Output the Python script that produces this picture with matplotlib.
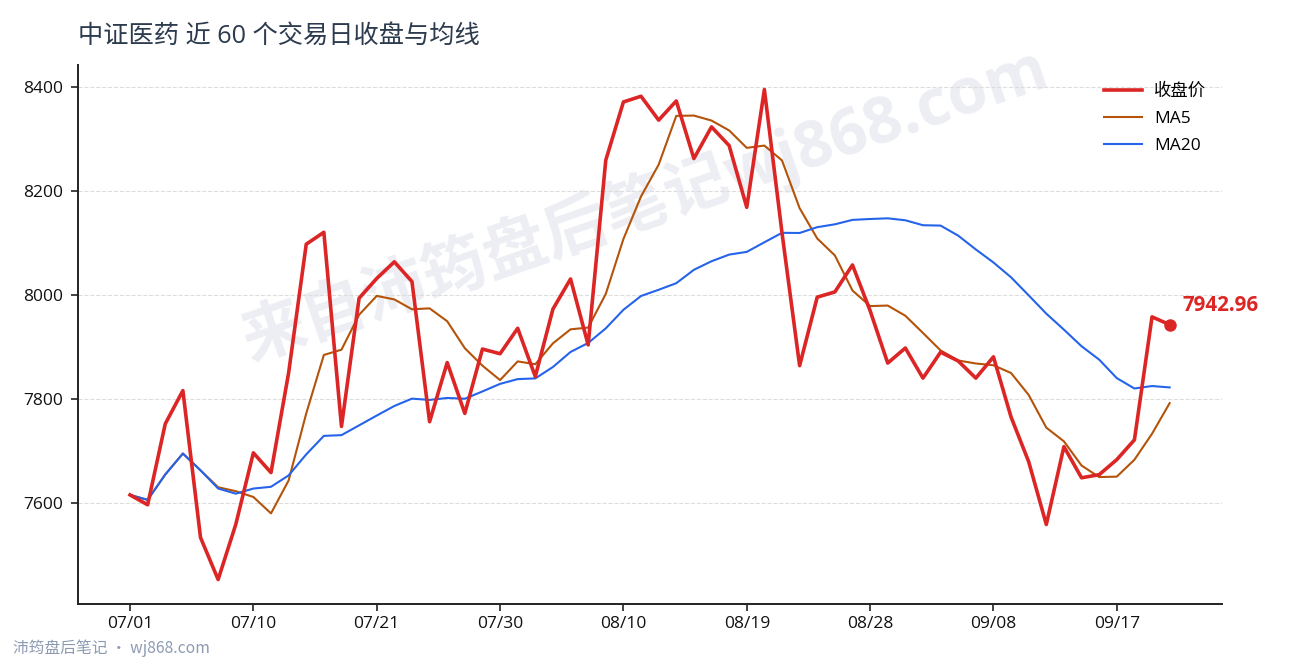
import matplotlib
matplotlib.use("Agg")
import matplotlib.pyplot as plt
import pandas as pd
import numpy as np

FAM = ['Open Sans', 'Noto Sans CJK SC', 'DejaVu Sans']
CJK = ['Noto Sans CJK SC', 'DejaVu Sans']
plt.rcParams['font.family'] = FAM

# ---- data ----
close = [7615, 7596, 7752, 7816, 7533, 7452, 7558, 7696, 7658, 7850,
         8098, 8121, 7747, 7994, 8032, 8064, 8026, 7756, 7870, 7772,
         7896, 7887, 7936, 7843, 7973, 8031, 7904, 8260, 8372, 8383,
         8337, 8374, 8263, 8324, 8288, 8169, 8396, 8120, 7864, 7996,
         8006, 8058, 7970, 7869, 7898, 7840, 7890, 7873, 7840, 7881,
         7765, 7679, 7558, 7708, 7648, 7654, 7683, 7721, 7958, 7942.96]
tick_labels = ["07/01", "07/10", "07/21", "07/30", "08/10",
               "08/19", "08/28", "09/08", "09/17"]
tick_step = 7
last_label = "7942.96"

s = pd.Series(close)
ma5 = s.rolling(5, min_periods=1).mean()
ma20 = s.rolling(20, min_periods=1).mean()
x = np.arange(len(close))

fig = plt.figure(figsize=(12.9, 6.6), dpi=100)
ax = fig.add_axes([0.0605, 0.0848, 0.8865, 0.8167])
ax.set_zorder(2)
ax.patch.set_alpha(0)

# watermark (behind the axes content)
fig.text(0.50, 0.69, "来自沛筠盘后笔记wj868.com", fontsize=46, fontweight='bold',
         color='#eceef3', rotation=19, ha='center', va='center', zorder=1,
         family=FAM)

ax.plot(x, close, color='#dc2626', lw=2.6, label='收盘价', zorder=4)
ax.plot(x, ma5, color='#b45309', lw=1.5, label='MA5', zorder=3)
ax.plot(x, ma20, color='#2563eb', lw=1.5, label='MA20', zorder=3)

ax.plot(x[-1], close[-1], 'o', color='#dc2626', ms=8, zorder=5)
ax.annotate(last_label, (x[-1], close[-1]), xytext=(9, 14), textcoords='offset points',
            color='#dc2626', fontsize=14.8, fontweight='bold', ha='left', va='center')

ax.set_xticks(x[::tick_step])
ax.set_xticklabels(tick_labels)
ax.set_yticks([7600, 7800, 8000, 8200, 8400])
ax.margins(x=0.05, y=0.05)

ax.grid(axis='y', color='#dddddd', linestyle='--', linewidth=0.8)
ax.set_axisbelow(True)
for sp in ['top', 'right']:
    ax.spines[sp].set_visible(False)
for sp in ['left', 'bottom']:
    ax.spines[sp].set_color('#222222')
    ax.spines[sp].set_linewidth(1.4)
ax.tick_params(axis='both', labelsize=12.5, colors='#222222', length=5, width=1.2)
ax.tick_params(axis='y', pad=6)
for lab in ax.get_xticklabels() + ax.get_yticklabels():
    lab.set_color('#111111')

leg = ax.legend(loc='upper right', frameon=False, fontsize=12.5, handlelength=2.2,
                handletextpad=0.7, bbox_to_anchor=(1.0, 0.995), labelspacing=0.62)

fig.text(78/1290, 1 - 36/660, "中证医药 近 60 个交易日收盘与均线", fontsize=18.2,
         color='#2d3b4e', ha='left', va='center')
fig.text(13/1290, 1 - 648/660, "沛筠盘后笔记 · wj868.com", fontsize=11.3,
         color='#8c9ab2', ha='left', va='center', family=CJK)

fig.savefig("out.png", dpi=100)
